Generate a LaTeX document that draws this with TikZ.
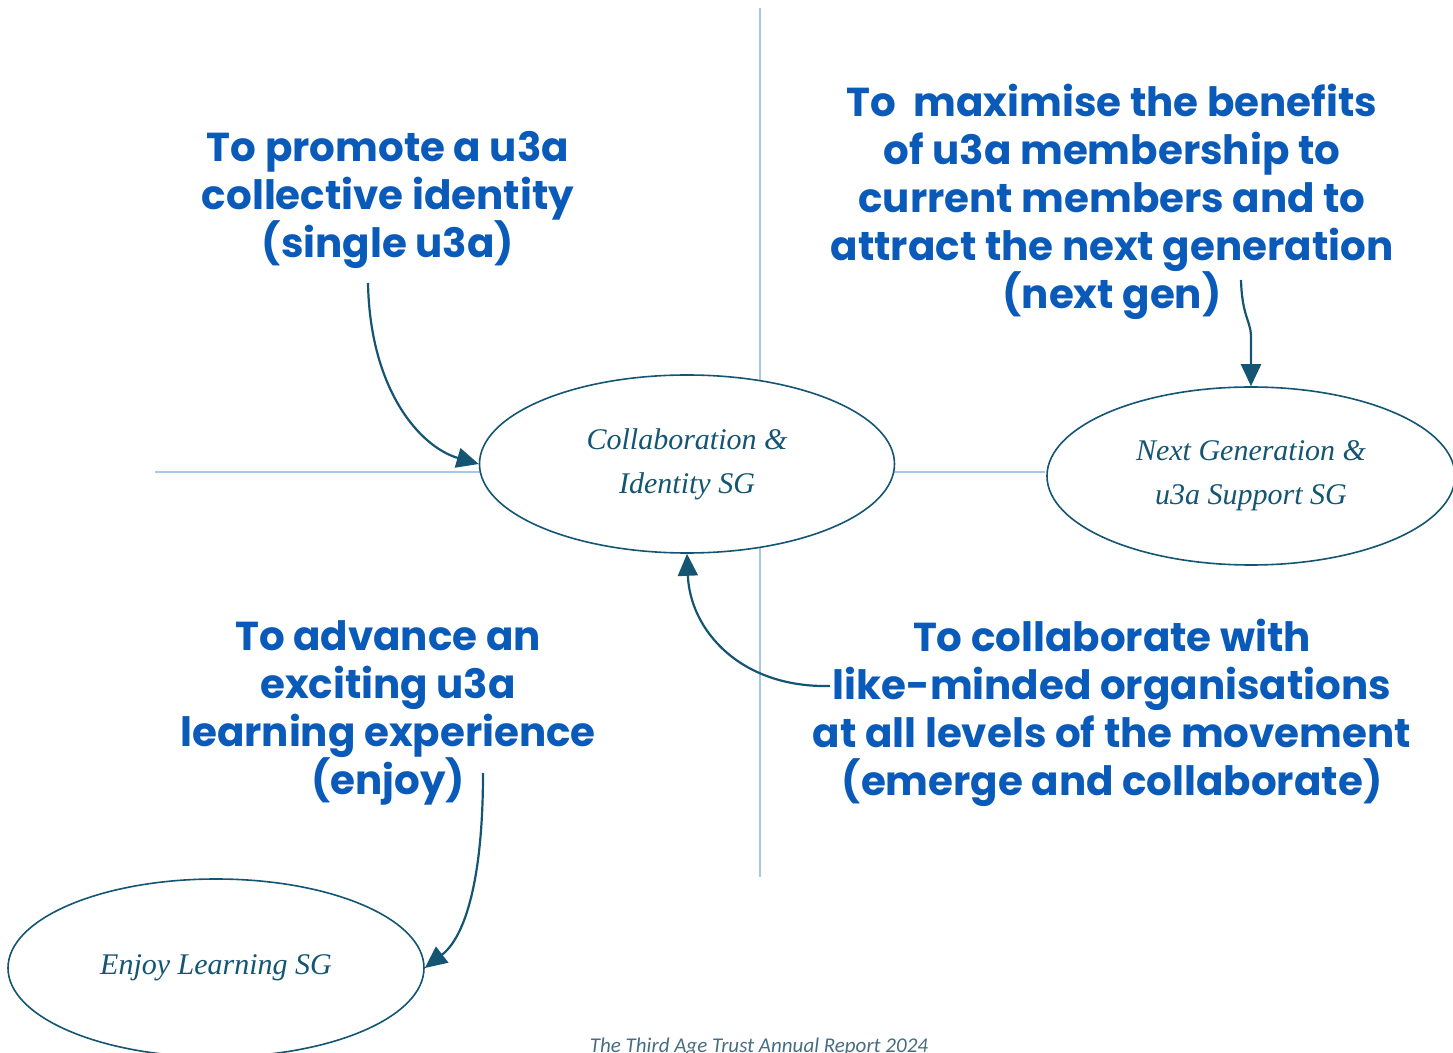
\documentclass[tikz,border=0pt]{standalone}
\usepackage{fontspec}
\setmainfont{Liberation Serif}
\newfontfamily\headfont{Poppins}[UprightFont={* Bold}]
\newfontfamily\footfont{Carlito}
\usetikzlibrary{arrows.meta,shapes.geometric}
\definecolor{headblue}{RGB}{10,90,185}
\definecolor{sgteal}{RGB}{20,85,115}
\definecolor{gridblue}{RGB}{165,200,232}
\definecolor{footgray}{RGB}{70,110,130}

\begin{document}
\begin{tikzpicture}[x=0.5pt, y=-0.5pt,
  goal/.style={align=center, text=headblue, inner sep=0pt,
    font=\headfont\fontsize{20.2}{24}\selectfont},
  sg/.style={ellipse, draw=sgteal, line width=0.8pt, fill=white,
    minimum width=207.5pt, minimum height=89pt, inner sep=0pt,
    align=center, text=sgteal, font=\itshape\fontsize{15}{22}\selectfont},
  quadline/.style={draw=gridblue, line width=1pt},
  arr/.style={-{Triangle[length=11pt,width=10pt]}, line width=1.1pt, sgteal}]
\useasboundingbox (0,0) rectangle (1453,1053);
% Quadrant lines
\coordinate (vtop) at (760,8);
\coordinate (vbot) at (760,877);
\coordinate (hleft) at (155,472);
\coordinate (hright) at (1045,472);
\draw[quadline] (vtop) -- (vbot);
\draw[quadline] (hleft) -- (hright);
% Sub-groups
\node[sg] (cis) at (687,464) {Collaboration \&\\Identity SG};
\node[sg, minimum width=204pt] (ngs) at (1251,476)
  {Next Generation \&\\u3a Support SG};
\node[sg, minimum width=208pt] (els) at (216,968) {Enjoy Learning SG};
% Top left: identity
\node[goal] (promote) at (388,200)
  {To promote a u3a\\collective identity\\(single u3a)};
\coordinate (promote-out) at (368,283);
\draw[arr] (promote-out) .. controls (370,390) and (420,447) .. (cis.west);
% Top right: next gen
\node[goal] (maximise) at (1112,202)
  {To\ \ maximise the benefits\\of u3a membership to\\current members and to\\attract the next generation\\(next gen)};
\coordinate (maximise-out) at (1241,280);
\draw[arr] (maximise-out) .. controls (1242,315) and (1250,320)
  .. (1251,335) -- (ngs.north);
% Bottom left: enjoy
\node[goal] (advance) at (388,713)
  {To advance an\\exciting u3a\\learning experience\\(enjoy)};
\coordinate (advance-out) at (483,773);
\draw[arr] (advance-out) .. controls (483,880) and (465,937) .. (els.east);
% Bottom right: collaborate
\node[goal] (collab) at (1112,713)
  {To collaborate with\\like-minded organisations\\at all levels of the movement\\(emerge and collaborate)};
\coordinate (collab-out) at (830,686);
\draw[arr] (collab-out) .. controls (740,688) and (690,630) .. (cis.south);
% Footer
\node[font=\footfont\itshape\fontsize{10.5}{13}\selectfont, text=footgray,
  anchor=base] (footer) at (759,1052) {The Third Age Trust Annual Report 2024};
\end{tikzpicture}
\end{document}
